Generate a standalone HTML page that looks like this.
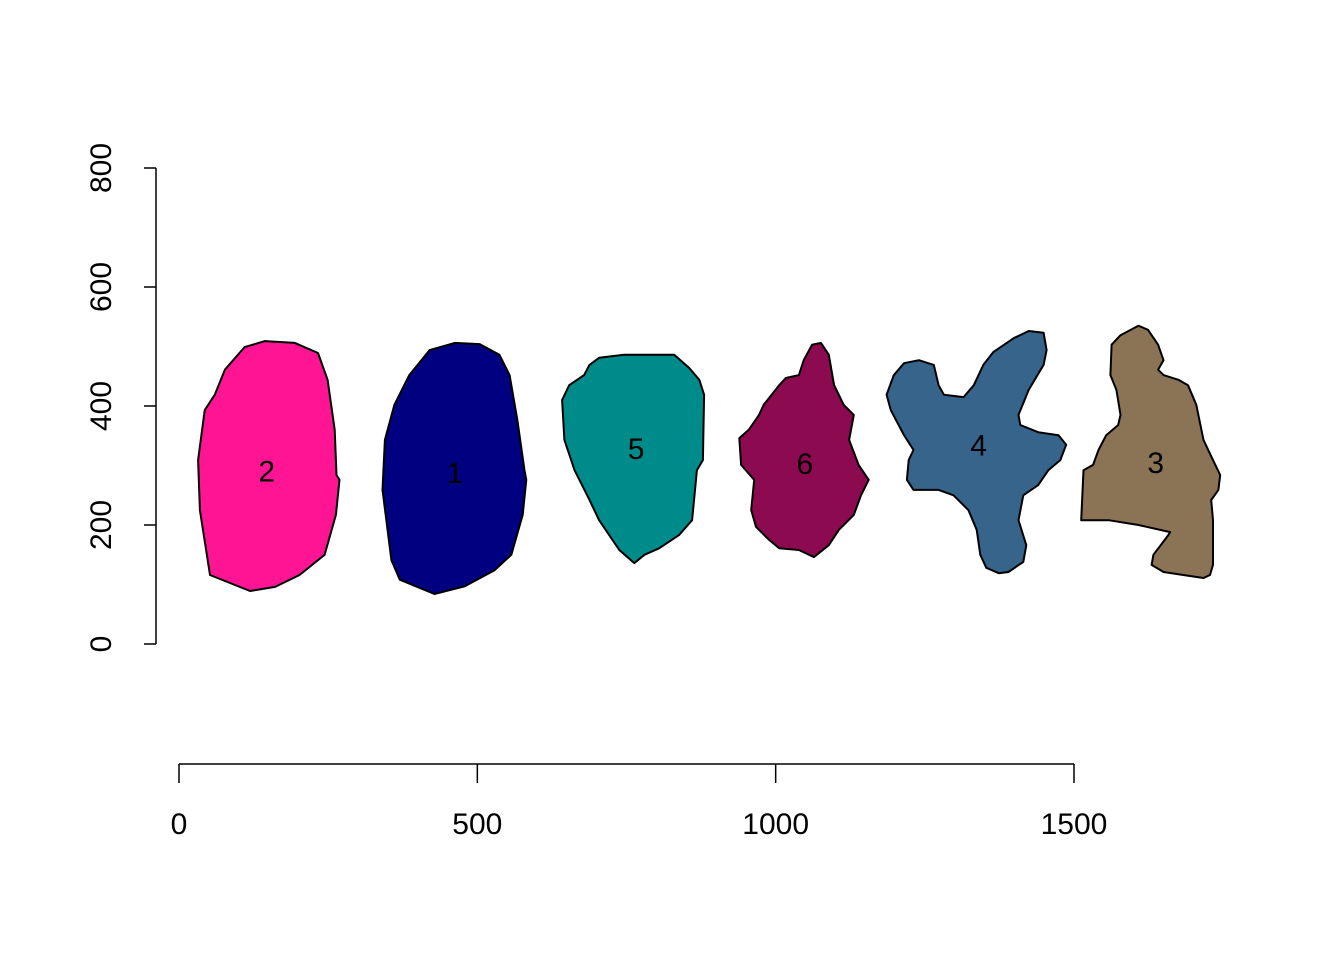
<!DOCTYPE html>
<html><head><meta charset="utf-8"><style>
html,body{margin:0;padding:0;background:#fff;}
svg text{font-family:"Liberation Sans",Arial,sans-serif;}
</style></head><body>
<svg id="chart" width="1344" height="960" viewBox="0 0 1344 960" xmlns="http://www.w3.org/2000/svg">
<rect width="1344" height="960" fill="#ffffff"/>
<g id="shapes"></g>
<g id="axes"></g>
</svg>
<script>
const xTicks = [0, 500, 1000, 1500];
const yTicks = [0, 200, 400, 600, 800];
const regionIds = ["2", "1", "5", "6", "4", "3"];
const regionColors = ["#FF1493", "#000080", "#008B8B", "#8B0A50", "#36648B", "#8B7355"];
const labelX = [147, 462, 766, 1049, 1340, 1637];
const labelY = [292, 289, 329, 304, 335, 306];
const region2 = [[119,89],[52,116],[35,225],[32,309],[43,393],[60,419],[77,461],[110,499],[144,509],[194,506],[233,489],[249,444],[261,360],[264,284],[269,276],[263,217],[244,150],[202,116],[161,96]];
const region1 = [[428,84],[370,108],[356,141],[341,259],[345,343],[361,402],[386,452],[420,494],[462,506],[504,504],[537,486],[554,452],[567,377],[579,292],[582,276],[576,217],[557,150],[529,124],[479,97]];
const region5 = [[763,136],[738,158],[704,208],[688,242],[663,292],[646,343],[642,410],[654,435],[679,452],[688,469],[704,481],[746,486],[830,486],[855,464],[872,444],[880,419],[878,309],[868,292],[860,208],[838,183],[805,161],[780,150]];
const region6 = [[1064,146],[1039,158],[1006,161],[989,175],[967,197],[959,225],[964,276],[942,301],[939,346],[955,360],[972,385],[980,402],[1006,435],[1017,447],[1039,452],[1047,477],[1061,503],[1076,506],[1089,486],[1098,435],[1114,402],[1131,385],[1123,343],[1139,301],[1156,276],[1143,250],[1131,217],[1106,192],[1089,166]];
const region4 = [[1374,119],[1353,128],[1343,150],[1337,192],[1323,225],[1298,250],[1273,259],[1231,259],[1220,276],[1223,309],[1231,326],[1215,351],[1193,393],[1186,419],[1198,452],[1215,472],[1240,477],[1265,469],[1273,435],[1282,419],[1315,415],[1332,435],[1348,469],[1365,491],[1399,514],[1424,526],[1449,523],[1454,494],[1449,469],[1424,427],[1407,385],[1410,368],[1440,356],[1474,351],[1487,335],[1477,309],[1457,292],[1440,267],[1415,250],[1407,208],[1420,166],[1415,138],[1390,121]];
const region3 = [[1717,111],[1683,116],[1650,121],[1630,133],[1633,150],[1658,183],[1661,188],[1608,200],[1558,208],[1512,208],[1516,292],[1532,301],[1541,326],[1554,351],[1574,368],[1578,385],[1571,427],[1561,452],[1563,503],[1578,519],[1608,535],[1624,528],[1641,503],[1650,477],[1641,461],[1650,452],[1675,444],[1691,435],[1705,402],[1717,343],[1733,309],[1745,284],[1742,259],[1730,242],[1733,208],[1733,133],[1728,116]];
const regions = [region2, region1, region5, region6, region4, region3];

const NS = "http://www.w3.org/2000/svg";
function xs(v){ return 179 + (v - 0) * (1074 - 179) / 1500; }
function ys(v){ return 644 - (v - 0) * (644 - 168) / 800; }
function mk(tag, attrs, parent){
  const e = document.createElementNS(NS, tag);
  for (const k in attrs) e.setAttribute(k, attrs[k]);
  parent.appendChild(e);
  return e;
}
const gS = document.getElementById("shapes");
regions.forEach((poly, i) => {
  const pts = poly.map(p => xs(p[0]).toFixed(1) + "," + ys(p[1]).toFixed(1)).join(" ");
  const pg = mk("polygon", {points: pts, fill: regionColors[i], stroke: "#000", "stroke-width": 2, "stroke-linejoin": "round"}, gS);
  
  
  const t = mk("text", {x: xs(labelX[i]), y: ys(labelY[i]) + 11, "font-size": 30, "text-anchor": "middle", fill: "#000"}, gS);
  t.textContent = regionIds[i];
  
  
});
const gA = document.getElementById("axes");
const yl = mk("line", {x1: 156, x2: 156, y1: ys(yTicks[0]), y2: ys(yTicks[yTicks.length-1]), stroke: "#000", "stroke-width": 1.5}, gA);


yTicks.forEach(v => {
  const l = mk("line", {x1: 144, x2: 156, y1: ys(v), y2: ys(v), stroke: "#000", "stroke-width": 1.5}, gA);
  
  
  const t = mk("text", {x: 0, y: 0, "font-size": 30, "text-anchor": "middle", transform: "translate(111," + ys(v) + ") rotate(-90)"}, gA);
  t.textContent = v;
  
  
});
const xl = mk("line", {x1: xs(xTicks[0]), x2: xs(xTicks[xTicks.length-1]), y1: 764, y2: 764, stroke: "#000", "stroke-width": 1.5}, gA);


xTicks.forEach(v => {
  const l = mk("line", {x1: xs(v), x2: xs(v), y1: 764, y2: 783, stroke: "#000", "stroke-width": 1.5}, gA);
  
  
  const t = mk("text", {x: xs(v), y: 834, "font-size": 30, "text-anchor": "middle"}, gA);
  t.textContent = v;
  
  
});
</script>
</body></html>
